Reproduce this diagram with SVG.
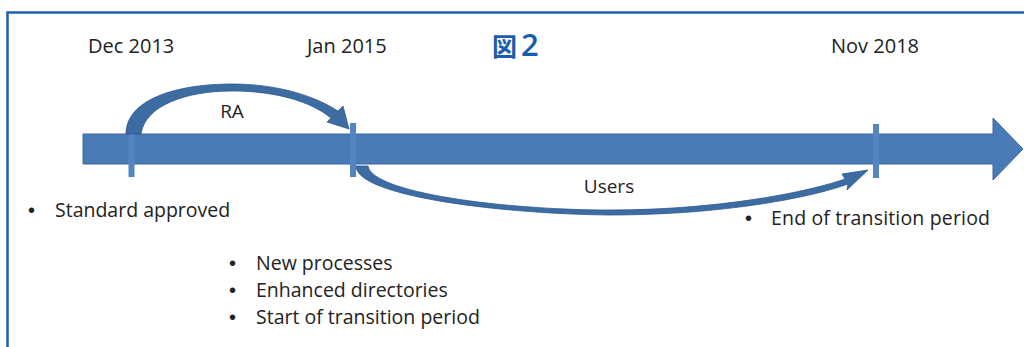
<svg xmlns="http://www.w3.org/2000/svg" width="1024" height="347" viewBox="0 0 1024 347">
  <style>
    .date { font-family: "Open Sans", "Liberation Sans", sans-serif; font-size: 20px; fill: #222; }
    .item { font-family: "Open Sans", "Liberation Sans", sans-serif; font-size: 19.5px; fill: #222; }
    .dot { font-family: "Liberation Sans", sans-serif; font-size: 20px; fill: #222; }
    .lbl { font-family: "Open Sans", "Liberation Sans", sans-serif; font-size: 19px; fill: #222; }
    .title { font-family: "Noto Sans CJK JP", "Noto Sans", sans-serif; font-size: 25px; font-weight: bold; fill: #1a5cad; }
    .tick { fill: #5285c2; }
    .arc { fill: #3d6ca3; stroke: #2f5b8e; stroke-width: 0.8; stroke-linejoin: round; }
  </style>

  <!-- frame -->
  <g id="frame" fill="none" stroke="#1f60b0" stroke-width="2.5">
    <path d="M7.5,347 L7.5,12.5 L1024,12.5"/>
  </g>

  <text class="title" x="492" y="56">図<tspan dx="4" font-size="31" font-family="Open Sans, sans-serif" font-weight="600">2</tspan></text>

  <!-- main time axis -->
  <g id="axis">
    <path d="M83,134 L993,134 L993,118 L1023,149 L993,180 L993,164 L83,164 Z" fill="#4a7bb7" stroke="#3d679a" stroke-width="1"/>
  </g>

  <!-- milestones -->
  <g id="m-dec2013">
    <rect class="tick" x="128.5" y="125" width="6" height="52"/>
    <text class="date" x="88" y="53">Dec 2013</text>
    <text class="dot" x="28" y="217">•</text>
    <text class="item" x="55" y="217">Standard approved</text>
  </g>

  <g id="m-jan2015">
    <rect class="tick" x="350" y="123" width="6" height="54"/>
    <text class="date" x="307" y="53">Jan 2015</text>
    <text class="dot" x="229" y="270">•</text>
    <text class="item" x="256" y="270">New processes</text>
    <text class="dot" x="229" y="297">•</text>
    <text class="item" x="256" y="297">Enhanced directories</text>
    <text class="dot" x="229" y="324">•</text>
    <text class="item" x="256" y="324">Start of transition period</text>
  </g>

  <g id="m-nov2018">
    <rect class="tick" x="873" y="124" width="6" height="54"/>
    <text class="date" x="831" y="53">Nov 2018</text>
    <text class="dot" x="745" y="225">•</text>
    <text class="item" x="771" y="225" textLength="219">End of transition period</text>
  </g>

  <!-- connectors -->
  <g id="connectors">
    <path id="ra" class="arc" d="M126,134 C126,100 175,84 232,84 C282,84 318,98 338,111 L343,106 L349,129 L327,122 L331,118 C313,103 279,91 232,91 C185,91 145,106 141,134 Z"/>
    <path id="users" class="arc" d="M356,166 C356,196 500,214 610,215 C720,215 810,198 848,184 L847,190 L868,170 L842,174 L845,179 C805,193 715,210 610,210 C505,210 372,193 368,166 Z"/>
    <text class="lbl" x="232" y="118" text-anchor="middle">RA</text>
    <text class="lbl" x="609" y="193" text-anchor="middle">Users</text>
  </g>
</svg>
